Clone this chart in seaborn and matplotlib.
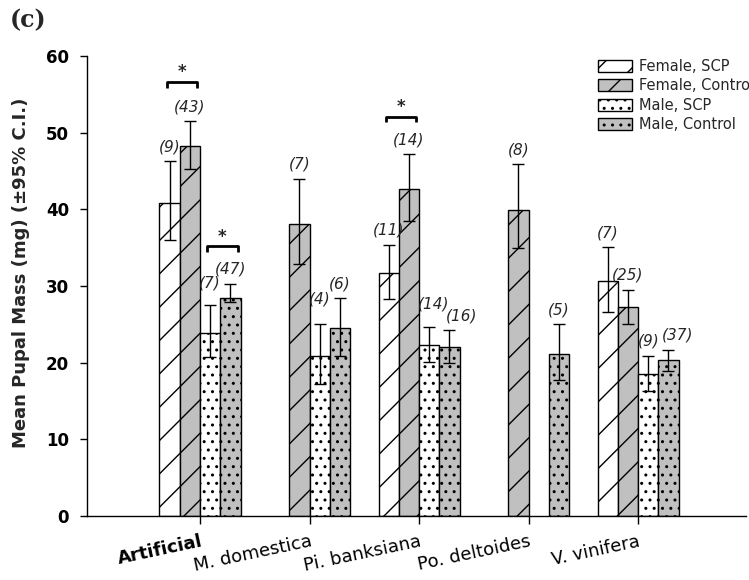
import numpy as np
import pandas as pd
import matplotlib
matplotlib.use("Agg")
import matplotlib.pyplot as plt
import seaborn as sns
from matplotlib.patches import Patch

# ---------------- data ----------------
hosts = ["Artificial", "M. domestica", "Pi. banksiana", "Po. deltoides", "V. vinifera"]
groups = ["Female, SCP", "Female, Control", "Male, SCP", "Male, Control"]

# mean pupal mass (mg); None = no bar for that host
female_scp = [40.8, None, 31.7, None, 30.6]
female_ctrl = [48.2, 38.1, 42.7, 39.9, 27.2]
male_scp = [23.9, 20.9, 22.3, None, 18.5]
male_ctrl = [28.5, 24.5, 22.0, 21.1, 20.3]

# 95% C.I. lower / upper limits
female_scp_lo = [36.0, None, 28.3, None, 26.6]
female_scp_hi = [46.3, None, 35.4, None, 35.1]
female_ctrl_lo = [45.3, 32.9, 38.5, 34.9, 25.1]
female_ctrl_hi = [51.5, 44.0, 47.2, 45.9, 29.5]
male_scp_lo = [20.8, 17.2, 20.1, None, 16.3]
male_scp_hi = [27.5, 25.1, 24.6, None, 20.9]
male_ctrl_lo = [27.9, 20.9, 20.0, 17.7, 18.9]
male_ctrl_hi = [30.3, 28.4, 24.2, 25.0, 21.7]

# sample sizes
female_scp_n = [9, None, 11, None, 7]
female_ctrl_n = [43, 7, 14, 8, 25]
male_scp_n = [7, 4, 14, None, 9]
male_ctrl_n = [47, 6, 16, 5, 37]

# significance brackets
sig_hosts = ["Artificial", "Artificial", "Pi. banksiana"]
sig_left = ["Female, SCP", "Male, SCP", "Female, SCP"]
sig_right = ["Female, Control", "Male, Control", "Female, Control"]
sig_level = [56.6, 35.2, 52.1]

# ---------------- layout tweaks for the (n) labels (pixels) ----------------
label_nudge = {
    ("Artificial", "Male, SCP"): (0, 8),
    ("M. domestica", "Male, SCP"): (0, 10),
    ("Pi. banksiana", "Male, SCP"): (4, 9),
    ("Pi. banksiana", "Male, Control"): (12, 0),
    ("V. vinifera", "Male, SCP"): (1, 0),
    ("V. vinifera", "Male, Control"): (9, 0),
}

# ---------------- table ----------------
means = [female_scp, female_ctrl, male_scp, male_ctrl]
los = [female_scp_lo, female_ctrl_lo, male_scp_lo, male_ctrl_lo]
his = [female_scp_hi, female_ctrl_hi, male_scp_hi, male_ctrl_hi]
ns = [female_scp_n, female_ctrl_n, male_scp_n, male_ctrl_n]

rows = []
for gi, g in enumerate(groups):
    for hi_, h in enumerate(hosts):
        if means[gi][hi_] is not None:
            rows.append({"host": h, "group": g, "mass": means[gi][hi_]})
df = pd.DataFrame(rows)

# ---------------- style ----------------
sns.set_style("ticks")
plt.rcParams["font.family"] = ["DejaVu Sans"]
plt.rcParams["hatch.linewidth"] = 1.0

white = "#ffffff"
gray = "#c0c0c0"
palette = {"Female, SCP": white, "Female, Control": gray,
           "Male, SCP": white, "Male, Control": gray}
hatches = {"Female, SCP": "/", "Female, Control": "/",
           "Male, SCP": "..", "Male, Control": ".."}

fig = plt.figure(figsize=(7.49, 5.80), dpi=100)
ax = fig.add_axes([87 / 749, 1 - 516 / 580, (746 - 87) / 749, (516 - 56) / 580])

WIDTH = 0.74
sns.barplot(data=df, x="host", y="mass", hue="group", order=hosts,
            hue_order=groups, palette=palette, saturation=1, width=WIDTH,
            edgecolor="black", linewidth=1, errorbar=None, legend=False, ax=ax)

bw = WIDTH / len(groups)
centers = {}
for bar in ax.patches:
    if bar.get_height() == 0 and bar.get_width() == 0:
        continue
    xc = bar.get_x() + bar.get_width() / 2
    h_idx = int(round(xc))
    g_idx = int(round((xc - h_idx + WIDTH / 2) / bw - 0.5))
    if not (0 <= h_idx < len(hosts) and 0 <= g_idx < len(groups)):
        continue
    bar.set_hatch(hatches[groups[g_idx]])
    bar.set_edgecolor("black")
    centers[(h_idx, g_idx)] = xc

for (h_idx, g_idx), xc in centers.items():
    m = means[g_idx][h_idx]
    lo = los[g_idx][h_idx]
    hi = his[g_idx][h_idx]
    ax.errorbar([xc], [m], yerr=[[m - lo], [hi - m]], fmt="none",
                ecolor="black", elinewidth=1, capsize=4.4, capthick=1, zorder=5)
    dx, dy = label_nudge.get((hosts[h_idx], groups[g_idx]), (0, 0))
    ax.annotate(f"({ns[g_idx][h_idx]})", xy=(xc, hi + 0.9),
                xytext=(dx * 0.72, dy * 0.72), textcoords="offset points",
                ha="center", va="bottom", fontsize=11, fontstyle="italic",
                zorder=6)

for h, gl, gr, yv in zip(sig_hosts, sig_left, sig_right, sig_level):
    hi_ = hosts.index(h)
    x0 = centers[(hi_, groups.index(gl))]
    x1 = centers[(hi_, groups.index(gr))]
    mid = (x0 + x1) / 2 + 0.02
    half = 0.14
    ax.plot([mid - half, mid - half, mid + half, mid + half],
            [yv - 0.75, yv, yv, yv - 0.75], color="black", lw=2,
            solid_capstyle="butt", zorder=6)
    ax.text(mid, yv + 0.6, "*", ha="center", va="baseline",
            fontsize=12, fontweight="bold")

# ---------------- axes ----------------
ax.set_xlim(-1.032, 4.986)
ax.set_ylim(0, 60)
ax.set_yticks(np.arange(0, 61, 10))
ax.set_xticks(range(len(hosts)))
ax.set_xticklabels(hosts, rotation=12, ha="right", va="top",
                   rotation_mode="anchor", fontsize=13)
ax.get_xticklabels()[0].set_fontweight("bold")
for t in ax.get_yticklabels():
    t.set_fontweight("bold")
    t.set_fontsize(12)
ax.tick_params(axis="y", direction="out", length=5, width=1, pad=8, colors="black")
ax.tick_params(axis="x", direction="out", length=6, width=1, pad=6, colors="black")
ax.set_xlabel("")
ax.set_ylabel("Mean Pupal Mass (mg) (\u00b195% C.I.)", fontsize=13,
              fontweight="bold")
ax.yaxis.set_label_coords(-0.086, 0.528)
for s in ["top", "right"]:
    ax.spines[s].set_visible(False)
for s in ["left", "bottom"]:
    ax.spines[s].set_linewidth(1)
    ax.spines[s].set_color("black")

# legend
handles = [Patch(facecolor=palette[g], edgecolor="black", hatch=hatches[g],
                 linewidth=1, label=g) for g in groups]
fig.legend(handles=handles, loc="upper left",
           bbox_to_anchor=(598 / 749, 1 - 59 / 580), frameon=False,
           fontsize=10.5, handlelength=2.3, handleheight=0.9,
           handletextpad=0.5, labelspacing=0.3, borderpad=0, borderaxespad=0)

fig.text(10 / 749, 1 - 8 / 580, "(c)", fontsize=17, fontweight="bold",
         family=["DejaVu Serif"], ha="left", va="top")

fig.savefig("out.png", dpi=100)
